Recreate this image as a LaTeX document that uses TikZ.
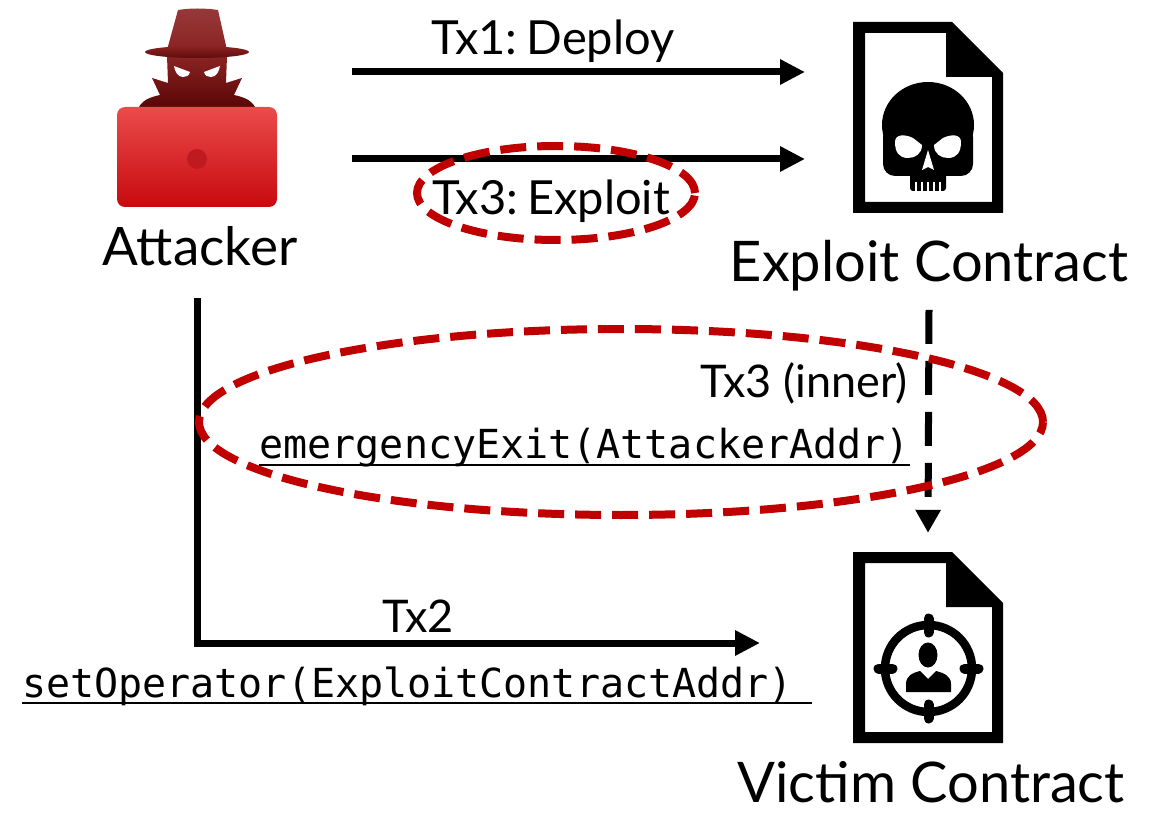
\documentclass[tikz,border=0pt]{standalone}
\usepackage{fontspec}
\setmainfont{Lato}
\setmonofont{DejaVu Sans Mono}
\usetikzlibrary{arrows.meta,shapes.geometric}

\definecolor{exred}{HTML}{C00000}
\definecolor{lapTop}{HTML}{EB4B4B}
\definecolor{lapBot}{HTML}{C70A0F}
\definecolor{lapDot}{HTML}{BF1A1F}
\definecolor{hatTop}{HTML}{8B2323}
\definecolor{hatBot}{HTML}{560505}

\begin{document}
\begin{tikzpicture}[x=1pt,y=-1pt,
  lbl/.style={font=\fontsize{47}{50}\selectfont, inner sep=0pt},
  sml/.style={font=\fontsize{45}{48}\selectfont, inner sep=0pt},
  big/.style={font=\fontsize{56}{60}\selectfont, inner sep=0pt},
  code/.style={font=\ttfamily\fontsize{40}{44}\selectfont, inner sep=0pt},
  uline/.style={line width=2.5pt},
  flow/.style={line width=7pt, -{Triangle[length=25pt,width=24pt]}},
  dflow/.style={line width=7pt, dash pattern=on 34pt off 17pt, -{Triangle[length=23pt,width=24pt]}},
  redring/.style={ellipse, draw=exred, line width=8pt, dash pattern=on 26pt off 11pt, inner sep=0pt},
  iconbox/.style={rectangle, inner sep=0pt, draw=none},
]
\useasboundingbox (0,0) rectangle (1152,813);

% ---------- attacker icon ----------
\node[iconbox, minimum width=162pt, minimum height=200pt] (atkicon) at (197,107) {};
% shoulders, collar and face
\shade[top color=hatTop, bottom color=hatBot]
  (138,110) .. controls (140,101) and (150,97) .. (160,95) -- (152,78) -- (168,83)
  -- (167,56) -- (227,56) -- (226,83) -- (242,78) -- (234,95)
  .. controls (244,97) and (254,101) .. (256,110) -- cycle;
% hat crown and brim
\shade[top color=hatTop!90!white, bottom color=hatTop]
  (178,10) .. controls (190,8) and (205,8) .. (218,10) -- (227,50) -- (167,50) -- cycle;
\shade[top color=hatTop, bottom color=hatBot!80!hatTop] (197,52) ellipse [x radius=52pt, y radius=6pt];
% eyes
\fill[white] (174,66) -- (190,72) .. controls (189,76) and (186,77) .. (183,77) .. controls (178,77) and (175,72) .. cycle;
\fill[white] (220,66) -- (204,72) .. controls (205,76) and (208,77) .. (211,77) .. controls (216,77) and (219,72) .. cycle;
% laptop
\shade[top color=lapTop, bottom color=lapBot, rounded corners=8pt] (117,107) rectangle (277,207);
\fill[lapDot] (197,159) circle[radius=10pt];

% ---------- document outlines ----------
\foreach \dy in {0,530}{
  \begin{scope}[shift={(0,\dy)}]
    \fill[black, even odd rule]
      (853,22) -- (952,22) -- (1003,73) -- (1003,213) -- (853,213) -- cycle
      (865,33) -- (946,33) -- (946,77) -- (992,77) -- (992,202) -- (865,202) -- cycle;
  \end{scope}
}
\node[iconbox, minimum width=150pt, minimum height=191pt] (expl) at (928,117.5) {};
\node[iconbox, minimum width=150pt, minimum height=191pt] (vic) at (928,647.5) {};

% ---------- skull ----------
\fill (928,125) ellipse [x radius=46pt, y radius=43pt];
\fill[rounded corners=12pt] (883,125) rectangle (973,176);
\fill[rounded corners=3pt] (910,160) rectangle (946,191);
\fill[white] (895,142) .. controls (895,134) and (905,134) .. (913,138) -- (922,145)
  .. controls (922,154) and (915,158) .. (908,158) .. controls (899,158) and (895,152) .. cycle;
\fill[white] (961,142) .. controls (961,134) and (951,134) .. (943,138) -- (934,145)
  .. controls (934,154) and (941,158) .. (948,158) .. controls (957,158) and (961,152) .. cycle;
\fill[white] (928,150) -- (934,170) -- (928,167) -- (922,170) -- cycle;
\foreach \tx in {916,922,928,934,940}{
  \fill[white] (\tx-0.8,182) rectangle (\tx+0.8,191);
}

% ---------- target ----------
\draw[line width=8.5pt] (928.5,668.5) circle[radius=43.5pt];
\foreach \a in {0,90,180,270}{
  \draw[line width=10pt, line cap=round] (928.5,668.5) ++(\a:36pt) -- ++(\a:14pt);
}
\fill (928,655) ellipse [x radius=9.5pt, y radius=12.5pt];
\fill (906,692) -- (906,684) .. controls (906,676) and (912,673) .. (920,671) -- (928,679)
  -- (936,671) .. controls (944,673) and (951,676) .. (951,684) -- (951,692) -- cycle;

% ---------- labels ----------
\node[font=\fontsize{53}{56}\selectfont, inner sep=0pt, anchor=base] (atk) at (200,266) {Attacker};
\node[lbl, anchor=base] (tx1) at (553,55) {Tx1:\hspace{9pt}Deploy};
\node[lbl, anchor=base] (tx3) at (551,215) {Tx3:\hspace{9pt}Exploit};
\node[big, anchor=base] (expname) at (929,282) {Exploit Contract};
\node[big, anchor=base] (vicname) at (931,802) {Victim Contract};
\node[sml, anchor=base east] (inner) at (908,397) {Tx3 (inner)};
\node[code, anchor=base east] (emx) at (910,458) {emergencyExit(AttackerAddr)};
\node[sml, anchor=base] (tx2) at (418,632) {Tx2};
\node[code, anchor=base west] (setop) at (22,697) {setOperator(ExploitContractAddr)};
\draw[uline] ([yshift=-7pt]emx.base west) -- ([yshift=-7pt]emx.base east);
\coordinate (ulend) at (812,700);
\draw[uline] ([yshift=-6pt]setop.base west) -- ([yshift=-6pt]setop.base west -| ulend);

% ---------- transactions ----------
\coordinate (t1s) at (352,72);
\coordinate (t1e) at (805,72);
\coordinate (t3s) at (352,159);
\coordinate (t3e) at (805,159);
\draw[flow] (t1s) -- (t1e);
\draw[flow] (t3s) -- (t3e);

\coordinate (t2s) at (197,298);
\coordinate (t2e) at (760,643);
\draw[flow] (t2s) |- (t2e);

\draw[dflow] ([yshift=-18pt]expname.south) -- ([yshift=19pt]vic.north);

% ---------- highlight rings ----------
\node[redring, minimum width=278pt, minimum height=94pt] (ring1) at (556,193) {};
\node[redring, minimum width=844pt, minimum height=186pt] (ring2) at (621,422) {};
\end{tikzpicture}
\end{document}
